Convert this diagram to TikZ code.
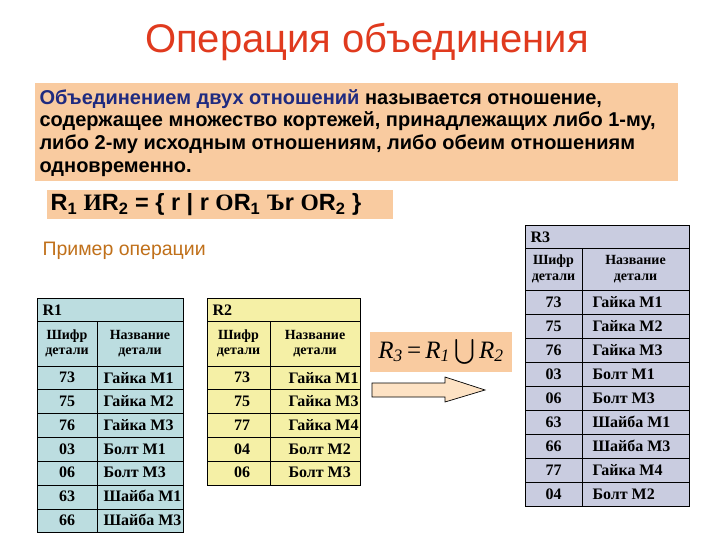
\documentclass[tikz,border=0pt]{standalone}
\usepackage{amsmath}
\usepackage{fontspec}
\setmainfont{Liberation Serif}
\newfontfamily\sans{Liberation Sans}
\definecolor{orbg}{HTML}{F9CBA0}
\definecolor{ttl}{HTML}{E03A1E}
\definecolor{dblue}{HTML}{1F2A80}
\definecolor{brn}{HTML}{C0701A}
\definecolor{tone}{HTML}{BCDDE0}
\definecolor{ttwo}{HTML}{F5F0A6}
\definecolor{tthree}{HTML}{C9CCE0}
\definecolor{arr}{HTML}{FDE2C4}
\begin{document}
\begin{tikzpicture}[x=1pt,y=-1pt,
 cell/.style={font=\fontsize{16}{17}\selectfont\bfseries},
 hd/.style={font=\fontsize{14}{15.5}\selectfont\bfseries,align=center},
 tl/.style={draw=black,line width=0.8pt}]
\useasboundingbox (0,0) rectangle (720,540);
\node (title) at (367,42) {\sans\fontsize{40}{42}\selectfont\color{ttl}Операция объединения};
\fill[orbg] (35,83) rectangle (678,181);
\node[anchor=west,align=left,font=\sans\fontsize{20}{22.8}\selectfont\bfseries] (def) at (36,133)
 {{\color{dblue}Объединением двух отношений} называется отношение,\\содержащее множество кортежей, принадлежащих либо 1-му,\\либо 2-му исходным отношениям, либо обеим отношениям\\одновременно.};
\fill[orbg] (47,190) rectangle (393,219);
\node[anchor=west,font=\sans\fontsize{23.5}{25}\selectfont\bfseries] (frm) at (47,205)
 {R\textsubscript{1} {\rmfamily И}R\textsubscript{2} = \{ r | r {\rmfamily О}R\textsubscript{1} {\rmfamily Ъ}r {\rmfamily О}R\textsubscript{2} \}};
\node[anchor=west,font=\sans\fontsize{19.5}{21}\selectfont,text=brn] (ex) at (39,251) {Пример операции};
% R1
\fill[tone] (37,298) rectangle (183,532);
\draw[tl] (37,298) rectangle (183,532);
\foreach \y in {321,366,389,413,437,461,485,509} \draw[tl] (37,\y) -- (183,\y);
\draw[tl] (97,321) -- (97,532);
\node[cell,anchor=west] (r1h) at (39,310) {R1};
\node[hd] (r1a) at (67,343.5) {Шифр\\детали};
\node[hd] (r1b) at (140,343.5) {Название\\детали};
\foreach \c/\n [count=\i] in {73/Гайка М1,75/Гайка М2,76/Гайка М3,03/Болт М1,06/Болт М3,63/Шайба М1,66/Шайба М3}{
 \node[cell] (r1c\i) at (67,354+\i*23.7) {\c};
 \node[cell,anchor=west] (r1n\i) at (100,354+\i*23.7) {\n};}
% R2
\fill[ttwo] (207,298) rectangle (360,485);
\draw[tl] (207,298) rectangle (360,485);
\foreach \y in {321,366,389,413,437,461} \draw[tl] (207,\y) -- (360,\y);
\draw[tl] (270,321) -- (270,485);
\node[cell,anchor=west] (r2h) at (209,310) {R2};
\node[hd] (r2a) at (238.5,343.5) {Шифр\\детали};
\node[hd] (r2b) at (315,343.5) {Название\\детали};
\foreach \c/\n [count=\i] in {73/Гайка М1,75/Гайка М3,77/Гайка М4,04/Болт М2,06/Болт М3}{
 \node[cell] (r2c\i) at (242,354+\i*23.7) {\c};
 \node[cell,anchor=west] (r2n\i) at (285,354+\i*23.7) {\n};}
% formula and arrow
\fill[orbg] (370,332) rectangle (512,372);
\node (u) at (441,352) {\fontsize{25}{27}\selectfont\itshape R\textsubscript{3}\,\upshape=\,\itshape R\textsubscript{1}\,$\bigcup$\,R\textsubscript{2}};
\draw[fill=arr,line width=0.7pt] (372,383) -- (445,383) -- (445,377) -- (485,390) -- (445,402) -- (445,397) -- (372,397) -- cycle;
% R3
\fill[tthree] (525,225) rectangle (689,506);
\draw[tl] (525,225) rectangle (689,506);
\foreach \y in {248,290,314,338,362,386,410,434,458,482} \draw[tl] (525,\y) -- (689,\y);
\draw[tl] (582,248) -- (582,506);
\node[cell,anchor=west] (r3h) at (527,237) {R3};
\node[hd] (r3a) at (553.5,269) {Шифр\\детали};
\node[hd] (r3b) at (635.5,269) {Название\\детали};
\foreach \c/\n [count=\i] in {73/Гайка М1,75/Гайка М2,76/Гайка М3,03/Болт М1,06/Болт М3,63/Шайба М1,66/Шайба М3,77/Гайка М4,04/Болт М2}{
 \node[cell] (r3c\i) at (553.5,278+\i*24) {\c};
 \node[cell,anchor=west] (r3n\i) at (589,278+\i*24) {\n};}
\end{tikzpicture}
\end{document}
